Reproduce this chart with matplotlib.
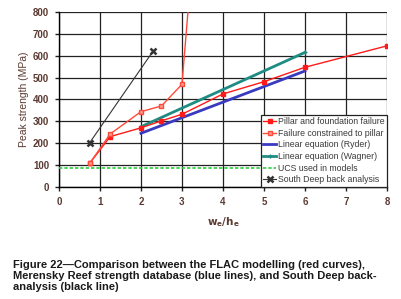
import numpy as np
import matplotlib
matplotlib.use("Agg")
import matplotlib.pyplot as plt

plt.rcParams.update({
    "font.family": "Liberation Sans",
    "font.size": 6,
    "font.weight": "bold",
})

# FLAC results
pf_x = [0.75, 1.25, 2.0, 2.5, 3.0, 4.0, 5.0, 6.0, 8.0]
pf_y = [108, 230, 270, 302, 332, 425, 481, 547, 645]

cp_x = [0.75, 1.25, 2.0, 2.5, 3.0, 3.5]
cp_y = [108, 242, 344, 370, 469, 1600]

# Merensky Reef linear equations
ryder_x = [2.0, 6.0]
ryder_y = [245, 530]
wagner_x = [2.0, 6.0]
wagner_y = [275, 615]

ucs = 87

# South Deep back analysis
sd_x = [0.75, 2.3]
sd_y = [202, 622]

fig = plt.figure(figsize=(4.01, 2.99), dpi=100)
ax = fig.add_axes([0.147, 0.375, 0.818, 0.585])

ax.plot(pf_x, pf_y, "-", color="#ff1a1a", lw=1.0, marker="s", ms=2.2,
        label="Pillar and foundation failure", zorder=4)
ax.plot(cp_x, cp_y, "-", color="#ff4a3a", lw=1.0, marker="s", ms=2.2,
        mfc="#ff9a90", label="Failure constrained to pillar", zorder=4)
ax.plot(ryder_x, ryder_y, "-", color="#3a3ac0", lw=2.0,
        label="Linear equation (Ryder)", zorder=3)
ax.plot(wagner_x, wagner_y, "-", color="#1f8c84", lw=2.0, marker="+", ms=3,
        label="Linear equation (Wagner)", zorder=3)
ax.axhline(ucs, color="#2ecc40", lw=1.2, ls=(0, (2, 1.2)),
           label="UCS used in models", zorder=3)
ax.plot(sd_x, sd_y, "-", color="#333333", lw=0.8, marker="x", ms=4, mew=1.8,
        label="South Deep back analysis", zorder=4)

ax.set_xlim(0, 8)
ax.set_ylim(0, 800)
ax.set_xticks(range(0, 9))
ax.set_yticks(range(0, 801, 100))
ax.grid(True, color="#222222", lw=0.9)
ax.set_axisbelow(True)
for s in ["top", "right"]:
    ax.spines[s].set_visible(False)
for s in ["left", "bottom"]:
    ax.spines[s].set_linewidth(1.0)
ax.tick_params(colors="#222222", labelcolor="#5a3a32", length=3, width=1.0,
               labelsize=7, pad=4)
ax.set_ylabel("Peak strength (MPa)", fontsize=7.5, color="#5a3a32", labelpad=3)
ax.set_xlabel(r"$\mathbf{w_e/h_e}$", fontsize=7.5, color="#5a3a32", labelpad=6)

leg = ax.legend(loc="lower right", fontsize=6.3, frameon=True, fancybox=False,
                edgecolor="#222222", framealpha=1, borderaxespad=0,
                handlelength=1.5, labelspacing=0.3, borderpad=0.3,
                handletextpad=0.15)
leg.get_frame().set_linewidth(0.9)
for t in leg.get_texts():
    t.set_fontweight("normal")
    t.set_color("#3a3a3a")

fig.text(0.032, 0.077,
         "Figure 22\u2014Comparison between the FLAC modelling (red curves),\n"
         "Merensky Reef strength database (blue lines), and South Deep back-\n"
         "analysis (black line)",
         fontsize=8.0, fontweight="bold", color="#1a1a1a", va="center",
         linespacing=1.15)

fig.savefig("out.png", dpi=100)
